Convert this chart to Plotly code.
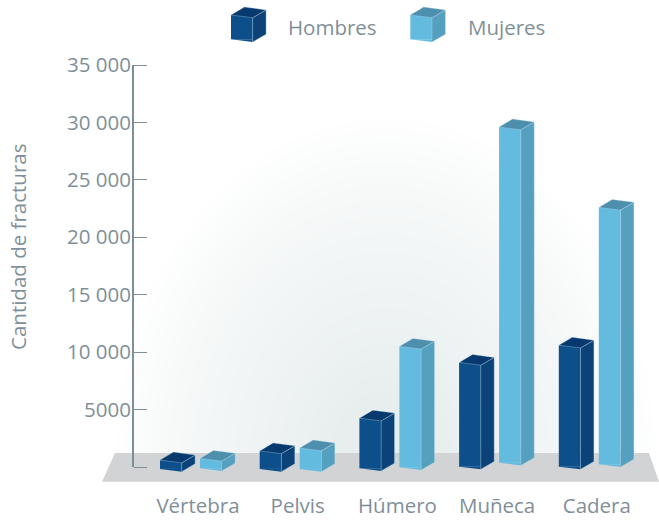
import numpy as np
import plotly.graph_objects as go

# ---------- data ----------
categories = ["Vértebra", "Pelvis", "Húmero", "Muñeca", "Cadera"]
hombres = [600, 1400, 4250, 9100, 10600]
mujeres = [750, 1650, 10500, 29600, 22600]
# the foot of each drawn bar, read in axis units (the artwork is not on one flat line)
hombres_pie = [-170, -170, -110, 30, 30]
mujeres_pie = [-110, -170, -30, 370, 235]
tick_values = [0, 5000, 10000, 15000, 20000, 25000, 30000, 35000]
tick_labels = ["", "5000", "10 000", "15 000", "20 000", "25 000", "30 000", "35 000"]
series_names = ["Hombres", "Mujeres"]
y_title = "Cantidad de fracturas"

# ---------- geometry / style ----------
W, H = 659, 522
Y0_PX, YMAX_PX, YMAX = 467, 65, 35000
PX_PER_UNIT = (Y0_PX - YMAX_PX) / YMAX
X_STEP, X0_PX = 99.7, 198
GREY = "#7f8f99"
FONT = "Open Sans"
FS = 20.5
PAL = {
    "Hombres": dict(front="#0c4f8a", side="#0b4378", top="#07396f", offset=-38),
    "Mujeres": dict(front="#63bbe0", side="#559fbf", top="#4e8fae", offset=2),
}
BW, DX, DY, SKEW = 21.7, 13.4, 7.8, 2.7
EDGE = "rgba(190,220,240,0.55)"


def ux(px):  # pixels -> x units
    return px / X_STEP


def uy(px):  # pixels -> y units
    return px / PX_PER_UNIT


def xv(px):
    return (px - X0_PX) / X_STEP


def yv(px):
    return (Y0_PX - px) / PX_PER_UNIT


def poly(xs, ys, fill, line=None):
    return go.Scatter(
        x=xs, y=ys, mode="lines", fill="toself", fillcolor=fill,
        line=dict(color=line or fill, width=0.6 if line else 0),
        hoverinfo="skip", showlegend=False,
    )


fig = go.Figure()

# soft glow behind the bars
gx = np.arange(103, 659, 6.0)
gy = np.arange(72, 451, 6.0)
GX, GY = np.meshgrid(gx, gy)
t = np.sqrt(((GX - 385) / 272) ** 2 + ((GY - 460) / 345) ** 2)
Z = np.clip(1 - t, 0, 1) ** 0.8
fig.add_trace(go.Heatmap(
    x=xv(gx), y=yv(gy), z=Z, zmin=0, zmax=0.85, zsmooth="best", showscale=False, hoverinfo="skip",
    colorscale=[[0, "#ffffff"], [1, "#e8eeee"]],
))

# floor
fig.add_shape(
    type="path", layer="below", line_width=0, fillcolor="#d1d3d4",
    path="M {} {} L {} {} L {} {} L {} {} Z".format(
        xv(115), yv(453), xv(649), yv(453), xv(659), yv(481.7), xv(102), yv(481.7)),
)


def add_box_faces(x, top, foot, p):
    xr = x + ux(BW)
    xb = xr + ux(DX)
    xk = x + ux(DX)
    sk = uy(SKEW)
    dy = uy(DY)
    # wedge at the foot of the front face
    fig.add_trace(poly([x, xr, xr, x], [foot, foot - sk, foot, foot], p["front"]))
    # side face
    fig.add_trace(poly([xr, xb, xb, xr, xr],
                       [top - sk, top - sk + dy, foot - sk + dy, foot - sk, top - sk], p["side"], EDGE))
    # top face
    fig.add_trace(poly([x, xr, xb, xk, x],
                       [top, top - sk, top - sk + dy, top + uy(8), top], p["top"], EDGE))


def add_series(name, values, feet):
    p = PAL[name]
    centers = [i + ux(p["offset"] + BW / 2) for i in range(len(values))]
    fig.add_trace(go.Bar(
        x=centers, y=[v - b for v, b in zip(values, feet)], base=feet, width=ux(BW),
        marker=dict(color=p["front"], line_width=0), name=name, showlegend=False,
        hovertemplate="%{customdata}<extra>" + name + "</extra>",
        customdata=categories, textposition="none",
    ))
    for i, (v, b) in enumerate(zip(values, feet)):
        add_box_faces(i + ux(p["offset"]), v, b, p)


add_series("Hombres", hombres, hombres_pie)
add_series("Mujeres", mujeres, mujeres_pie)

# y axis spine
fig.add_trace(go.Scatter(
    x=[xv(133), xv(133)], y=[0, YMAX], mode="lines",
    line=dict(color=GREY, width=2), hoverinfo="skip", showlegend=False,
))

# legend swatches, built from the same box faces
annotations = []
for name, left, text_x in zip(series_names, [231, 410.3], [286, 466]):
    p = PAL[name]
    h = uy(24.3)
    top = yv(15)
    fig.add_trace(poly([xv(left), xv(left + BW), xv(left + BW), xv(left)],
                       [top, top, top - h, top - h], p["front"]))
    add_box_faces(xv(left), top, top - h, p)
    annotations.append(dict(
        x=xv(text_x), y=yv(27), text=name, showarrow=False, xanchor="left", yanchor="middle",
        font=dict(family=FONT, size=FS, color=GREY), xref="x", yref="y",
    ))

annotations.append(dict(
    x=xv(18), y=yv(247), text=y_title, textangle=-90, showarrow=False,
    xanchor="center", yanchor="middle", font=dict(family=FONT, size=FS, color=GREY), xref="x", yref="y",
))

fig.update_layout(
    width=W, height=H, margin=dict(l=0, r=0, t=0, b=0),
    paper_bgcolor="white", plot_bgcolor="white", barmode="overlay", showlegend=False,
    annotations=annotations,
    xaxis=dict(
        range=[xv(0), xv(W)], tickmode="array", tickvals=list(range(len(categories))), ticktext=categories,
        showgrid=False, zeroline=False, showline=False, ticks="", anchor="free",
        position=(H - 491) / H, tickfont=dict(family=FONT, size=FS, color=GREY),
    ),
    yaxis=dict(
        range=[yv(H), yv(0)], tickmode="array", tickvals=tick_values, ticktext=tick_labels,
        showgrid=False, zeroline=False, showline=False, ticks="inside", ticklen=13, tickwidth=1.4,
        tickcolor=GREY, anchor="free", position=133 / W, ticklabelstandoff=2,
        tickfont=dict(family=FONT, size=FS, color=GREY),
    ),
)

fig.write_html(
    "out.html",
    config={"displayModeBar": False},
    post_script="document.body.style.margin='0';document.documentElement.style.overflow='hidden';",
)
